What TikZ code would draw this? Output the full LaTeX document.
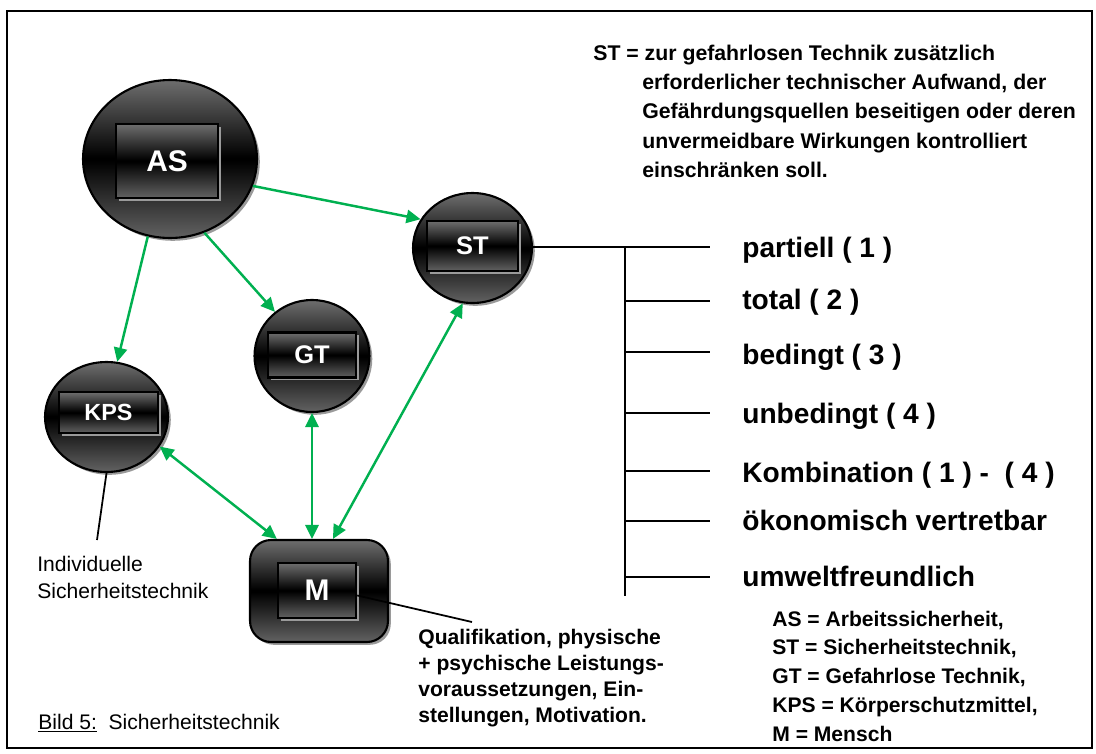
\documentclass[tikz,border=0pt]{standalone}
\usepackage{fontspec}
\setmainfont{Liberation Sans}
\usetikzlibrary{shapes.geometric,shadows,arrows.meta}

\definecolor{linkgreen}{HTML}{00B050}
\definecolor{glossTop}{HTML}{6E6E6E}
\definecolor{glossBot}{HTML}{626262}
\definecolor{shadowgray}{HTML}{9A9A9A}

% glossy dark fill: grey at top and bottom, black band across the middle
\pgfdeclareverticalshading{glossy}{100bp}{%
  color(0bp)=(glossBot); color(25bp)=(glossBot);
  color(49.5bp)=(black); color(50.5bp)=(black);
  color(75bp)=(glossTop); color(100bp)=(glossTop)}

\tikzset{
  darkshadow/.style={drop shadow={shadow xshift=1.6pt, shadow yshift=-1.6pt,
      fill=shadowgray, opacity=1}},
  ball/.style={ellipse, draw=black, line width=1.2pt, shading=glossy,
      darkshadow, inner sep=0pt},
  plate/.style={rectangle, draw=black, line width=1.4pt, shading=glossy,
      darkshadow, inner sep=0pt, text=white, font=\bfseries},
  person/.style={rectangle, rounded corners=0.42cm, draw=black, line width=1.2pt,
      shading=glossy, darkshadow, inner sep=0pt},
  link/.style={draw=linkgreen, line width=1.4pt,
      -{Triangle[length=8pt,width=7.5pt]}},
  duplex/.style={draw=linkgreen, line width=1.4pt,
      {Triangle[length=8pt,width=7.5pt]}-{Triangle[length=8pt,width=7.5pt]}},
  lead/.style={draw=black, line width=1pt},
  branchlabel/.style={anchor=base west, inner sep=0pt,
      font=\fontsize{16}{19}\selectfont\bfseries},
  notebold/.style={anchor=base west, inner sep=0pt,
      font=\fontsize{12.1}{16.4}\selectfont\bfseries},
  legend/.style={anchor=base west, inner sep=0pt,
      font=\fontsize{12}{14.4}\selectfont\bfseries},
  plain/.style={anchor=base west, inner sep=0pt,
      font=\fontsize{12}{14.4}\selectfont},
}

\begin{document}
\begin{tikzpicture}[x=0.02cm, y=-0.02cm]
\useasboundingbox (0,0) rectangle (1096,754);
\draw[line width=1.1pt] (7,11) rectangle (1092,748);

% circles and their labelled plates
\node[ball, minimum width=3.48cm, minimum height=3.16cm] (AS) at (170,159) {};
\node[plate, minimum width=2.04cm, minimum height=1.48cm,
      font=\fontsize{17}{20}\selectfont\bfseries] (ASp) at (167,161) {AS};

\node[ball, minimum width=2.38cm, minimum height=2.2cm] (ST) at (472.5,248) {};
\node[plate, minimum width=1.82cm, minimum height=1.0cm,
      font=\fontsize{14.5}{17}\selectfont\bfseries] (STp) at (472.5,246) {ST};

\node[ball, minimum width=2.3cm, minimum height=2.24cm] (GT) at (312,356) {};
\node[plate, minimum width=1.76cm, minimum height=0.9cm,
      font=\fontsize{14.5}{17}\selectfont\bfseries] (GTp) at (312,355) {GT};

\node[ball, minimum width=2.46cm, minimum height=2.2cm] (KPS) at (106.5,417) {};
\node[plate, minimum width=1.98cm, minimum height=0.82cm,
      font=\fontsize{13.3}{16}\selectfont\bfseries] (KPSp) at (108.5,412.5) {KPS};

\node[person, minimum width=2.76cm, minimum height=2.04cm] (M) at (319,591) {};
\node[plate, minimum width=1.56cm, minimum height=1.1cm,
      font=\fontsize{17}{20}\selectfont\bfseries] (Mp) at (317,590.5) {M};

% green connectors
\draw[link] (AS.-18) -- (ST.151);
\draw[link] (AS.254) -- (KPS.79);
\draw[link] (AS.295) -- (GT.130);
\draw[duplex] (GT.south) -- (GT.south |- M.north);
\draw[duplex] (KPS.331) -- (M.129.5);
\draw[duplex] (ST.260) -- (M.75.7);

% tree of properties to the right of ST
\coordinate (t0) at (625,247);
\coordinate (tend) at (625,596);
\coordinate (b1) at (710,247);
\coordinate (b2) at (710,301);
\coordinate (b3) at (710,352);
\coordinate (b4) at (710,413);
\coordinate (b5) at (710,471);
\coordinate (b6) at (710,521);
\coordinate (b7) at (710,577);
\draw[lead] (ST.east |- t0) -- (b1);
\draw[lead] (t0) -- (tend);
\foreach \b in {b2,b3,b4,b5,b6,b7}
  \draw[lead] (t0 |- \b) -- (\b);

\node[branchlabel] (l1) at (742,257) {partiell ( 1 )};
\node[branchlabel] (l2) at (742,309) {total ( 2 )};
\node[branchlabel] (l3) at (742,364) {bedingt ( 3 )};
\node[branchlabel] (l4) at (742,423) {unbedingt ( 4 )};
\node[branchlabel] (l5) at (742,482) {Kombination ( 1 ) -\ \ ( 4 )};
\node[branchlabel] (l6) at (742,530) {ökonomisch vertretbar};
\node[branchlabel] (l7) at (742,586) {umweltfreundlich};

% definition of ST
\node[notebold] (d1) at (593,60) {ST = zur gefahrlosen Technik zusätzlich};
\node[notebold] (d2) at (642,89) {erforderlicher technischer Aufwand, der};
\node[notebold] (d3) at (642,118) {Gefährdungsquellen beseitigen oder deren};
\node[notebold] (d4) at (642,148) {unvermeidbare Wirkungen kontrolliert};
\node[notebold] (d5) at (642,177) {einschränken soll.};

% note on KPS
\coordinate (kpsnote) at (97,540);
\draw[lead] (KPS.south) -- (kpsnote);
\node[plain] (i1) at (37,571) {Individuelle};
\node[plain] (i2) at (37,598) {Sicherheitstechnik};

% note on M
\coordinate (mnote) at (472,622);
\draw[lead] (Mp.-7) -- (mnote);
\node[legend] (q1) at (418,644) {Qualifikation, physische};
\node[legend] (q2) at (418,670) {+ psychische Leistungs-};
\node[legend] (q3) at (418,696) {voraussetzungen, Ein-};
\node[legend] (q4) at (418,722) {stellungen, Motivation.};

% abbreviations
\node[legend] (a1) at (772,626) {AS = Arbeitssicherheit,};
\node[legend] (a2) at (772,654) {ST = Sicherheitstechnik,};
\node[legend] (a3) at (772,683) {GT = Gefahrlose Technik,};
\node[legend] (a4) at (772,712) {KPS = Körperschutzmittel,};
\node[legend] (a5) at (772,741) {M = Mensch};

% caption
\node[plain] (cap) at (38,729) {\underline{Bild 5:}\ \ Sicherheitstechnik};
\end{tikzpicture}
\end{document}
